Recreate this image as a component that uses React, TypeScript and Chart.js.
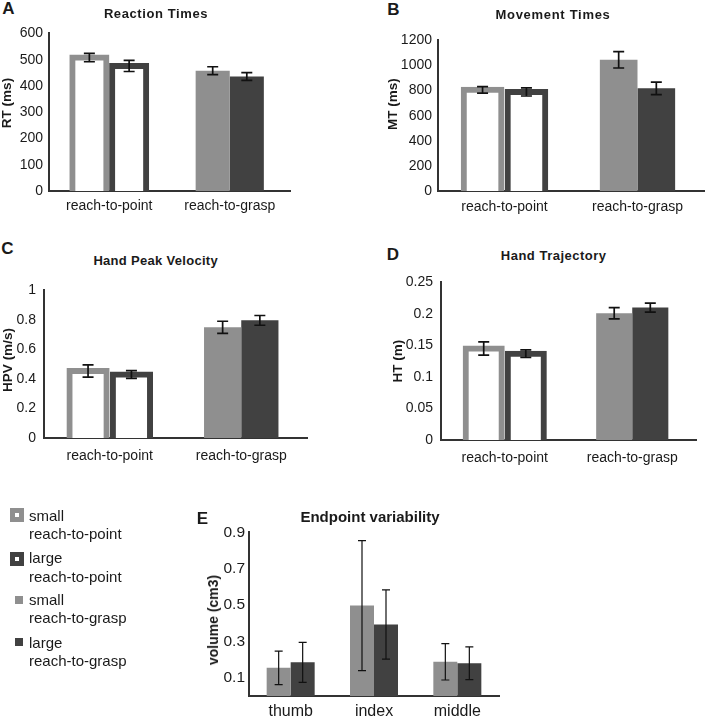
import React, { useEffect, useRef } from 'react';
import { Chart, registerables } from 'chart.js';

Chart.register(...registerables);

// ---------------- data ----------------
const groupLabels = ['reach-to-point', 'reach-to-grasp'];
const fingerLabels = ['thumb', 'index', 'middle'];

// A: Reaction Times (ms)  [reach-to-point, reach-to-grasp]
const rtSmall = [508, 458];
const rtSmallErr = [16, 15];
const rtLarge = [476, 436];
const rtLargeErr = [21, 15];
const rtTicks = [0, 100, 200, 300, 400, 500, 600];

// B: Movement Times (ms)
const mtSmall = [806, 1045];
const mtSmallErr = [26, 65];
const mtLarge = [789, 818];
const mtLargeErr = [32, 50];
const mtTicks = [0, 200, 400, 600, 800, 1000, 1200];

// C: Hand Peak Velocity (m/s)
const hpvSmall = [0.454, 0.75];
const hpvSmallErr = [0.041, 0.041];
const hpvLarge = [0.43, 0.797];
const hpvLargeErr = [0.026, 0.033];
const hpvTicks = [0, 0.2, 0.4, 0.6, 0.8, 1];

// D: Hand Trajectory (m)
const htSmall = [0.145, 0.201];
const htSmallErr = [0.0105, 0.009];
const htLarge = [0.137, 0.21];
const htLargeErr = [0.006, 0.007];
const htTicks = [0, 0.05, 0.1, 0.15, 0.2, 0.25];

// E: Endpoint variability (cm3), reach-to-grasp  [thumb, index, middle]
const evSmall = [0.155, 0.497, 0.188];
const evSmallErr = [0.092, 0.357, 0.1];
const evLarge = [0.185, 0.393, 0.18];
const evLargeErr = [0.11, 0.19, 0.09];
const evTicks = [0.1, 0.3, 0.5, 0.7, 0.9];
const evMax = 0.9;

// ---------------- style ----------------
const FONT = "'Liberation Sans', Arial, Helvetica, sans-serif";
const LIGHT = '#8f8f8f';
const DARK = '#414141';
const AXIS = '#333333';
const TEXT = '#1a1a1a';
const POINT_CAT = 0.66;
const POINT_BAR = 0.857;
const GRASP_CAT = 0.566;

const errorBarPlugin = {
  id: 'errorBars',
  afterDatasetsDraw(chart: any, _args: any, opts: any) {
    const ctx = chart.ctx;
    const yScale = chart.scales.y;
    ctx.save();
    ctx.strokeStyle = opts.color || '#111';
    ctx.lineWidth = opts.lineWidth || 1.5;
    chart.data.datasets.forEach((ds: any, di: number) => {
      if (!ds.errors) return;
      const meta = chart.getDatasetMeta(di);
      meta.data.forEach((el: any, i: number) => {
        const v = ds.data[i];
        const e = ds.errors[i];
        if (v == null || e == null) return;
        const x = el.x;
        const yt = yScale.getPixelForValue(v + e);
        const yb = yScale.getPixelForValue(v - e);
        const h = opts.capWidth / 2;
        ctx.beginPath();
        ctx.moveTo(x, yt);
        ctx.lineTo(x, yb);
        ctx.moveTo(x - h, yt);
        ctx.lineTo(x + h, yt);
        ctx.moveTo(x - h, yb);
        ctx.lineTo(x + h, yb);
        ctx.stroke();
      });
    });
    ctx.restore();
  },
};

function groupDatasets(small: number[], smallErr: number[], large: number[], largeErr: number[]) {
  const outline = (color: string, v: number, e: number) => ({
    data: [v, null],
    errors: [e, null],
    backgroundColor: '#ffffff',
    borderColor: color,
    borderWidth: 6,
    inflateAmount: 3,
    borderSkipped: 'start',
    categoryPercentage: POINT_CAT,
    barPercentage: POINT_BAR,
    skipNull: true,
  });
  const filled = (color: string, v: number, e: number) => ({
    data: [null, v],
    errors: [null, e],
    backgroundColor: color,
    borderWidth: 0,
    inflateAmount: 0,
    categoryPercentage: GRASP_CAT,
    barPercentage: 1,
    skipNull: true,
  });
  return [
    outline(LIGHT, small[0], smallErr[0]),
    outline(DARK, large[0], largeErr[0]),
    filled(LIGHT, small[1], smallErr[1]),
    filled(DARK, large[1], largeErr[1]),
  ];
}

type PanelSpec = {
  left: number; top: number; width: number; height: number;
  yWidth: number; xHeight: number; padTop: number; padRight: number;
  labels: string[]; datasets: any[]; ticks: number[]; yMax: number;
  yTickPad: number; xTickPad: number; tickFont: number; catFont: number;
  err: { lineWidth: number; capWidth: number; color: string };
};

function ChartPanel({ spec }: { spec: PanelSpec }) {
  const ref = useRef<HTMLCanvasElement | null>(null);
  useEffect(() => {
    const c = ref.current;
    if (!c) return;
    const chart = new Chart(c, {
      type: 'bar',
      data: { labels: spec.labels, datasets: spec.datasets },
      options: {
        responsive: false,
        animation: false,
        devicePixelRatio: 1,
        events: [],
        layout: { padding: { top: spec.padTop, right: spec.padRight, bottom: 0, left: 0 } },
        plugins: {
          legend: { display: false },
          tooltip: { enabled: false },
          title: { display: false },
          errorBars: spec.err,
        } as any,
        scales: {
          x: {
            z: 1,
            grid: { display: false, drawTicks: false, tickLength: 0 },
            border: { display: true, width: 2, color: AXIS },
            ticks: {
              padding: spec.xTickPad,
              maxRotation: 0,
              autoSkip: false,
              color: TEXT,
              font: { family: FONT, size: spec.catFont },
            },
            afterFit: (s: any) => { s.height = spec.xHeight; },
          },
          y: {
            min: 0,
            max: spec.yMax,
            grid: { display: false, drawTicks: false, tickLength: 0 },
            border: { display: true, width: 2, color: AXIS },
            ticks: {
              padding: spec.yTickPad,
              color: TEXT,
              font: { family: FONT, size: spec.tickFont },
              callback: (v: any) => String(Number(v)),
            },
            afterBuildTicks: (s: any) => { s.ticks = spec.ticks.map((v) => ({ value: v })); },
            afterFit: (s: any) => { s.width = spec.yWidth; },
          },
        },
      } as any,
      plugins: [errorBarPlugin as any],
    });
    let alive = true;
    const fonts = (document as any).fonts;
    if (fonts && fonts.load) {
      fonts.load(`14px ${FONT}`).then(() => { if (alive) chart.update('none'); }).catch(() => {});
    }
    return () => { alive = false; chart.destroy(); };
  }, []);
  return (
    <canvas
      ref={ref}
      width={spec.width}
      height={spec.height}
      style={{ position: 'absolute', left: spec.left, top: spec.top, width: spec.width, height: spec.height }}
    />
  );
}

const ERR_BIG = { lineWidth: 1.7, capWidth: 11, color: '#111' };
const ERR_SMALL = { lineWidth: 1.2, capWidth: 8, color: '#111' };

const panels: PanelSpec[] = [
  {
    left: 0, top: 19, width: 295, height: 202, yWidth: 49, xHeight: 30, padTop: 10, padRight: 5,
    labels: groupLabels, datasets: groupDatasets(rtSmall, rtSmallErr, rtLarge, rtLargeErr),
    ticks: rtTicks, yMax: 600, yTickPad: 6, xTickPad: 7, tickFont: 14, catFont: 14, err: ERR_BIG,
  },
  {
    left: 378, top: 26, width: 327, height: 195, yWidth: 60, xHeight: 30, padTop: 10, padRight: 1,
    labels: groupLabels, datasets: groupDatasets(mtSmall, mtSmallErr, mtLarge, mtLargeErr),
    ticks: mtTicks, yMax: 1200, yTickPad: 6, xTickPad: 8, tickFont: 14, catFont: 14, err: ERR_BIG,
  },
  {
    left: 0, top: 274, width: 312, height: 194, yWidth: 44, xHeight: 30, padTop: 10, padRight: 5,
    labels: groupLabels, datasets: groupDatasets(hpvSmall, hpvSmallErr, hpvLarge, hpvLargeErr),
    ticks: hpvTicks, yMax: 1, yTickPad: 8, xTickPad: 10, tickFont: 14, catFont: 14, err: ERR_BIG,
  },
  {
    left: 381, top: 266, width: 320, height: 204, yWidth: 60, xHeight: 30, padTop: 10, padRight: 5,
    labels: groupLabels, datasets: groupDatasets(htSmall, htSmallErr, htLarge, htLargeErr),
    ticks: htTicks, yMax: 0.25, yTickPad: 8, xTickPad: 10, tickFont: 14, catFont: 14, err: ERR_BIG,
  },
  {
    left: 189, top: 519, width: 315, height: 200, yWidth: 60, xHeight: 23, padTop: 10, padRight: 5,
    labels: fingerLabels,
    datasets: [
      { data: evSmall, errors: evSmallErr, backgroundColor: LIGHT, borderWidth: 0, inflateAmount: 0, categoryPercentage: 0.576, barPercentage: 1 },
      { data: evLarge, errors: evLargeErr, backgroundColor: DARK, borderWidth: 0, inflateAmount: 0, categoryPercentage: 0.576, barPercentage: 1 },
    ],
    ticks: evTicks, yMax: evMax, yTickPad: 4, xTickPad: 6, tickFont: 15.5, catFont: 16, err: ERR_SMALL,
  },
];

function Txt(props: { x: number; y: number; text: string; size: number; bold?: boolean; rotate?: boolean; left?: boolean; ls?: number }) {
  const { x, y, text, size, bold, rotate, left, ls } = props;
  return (
    <div
      style={{
        position: 'absolute',
        left: x,
        top: y,
        transform: `translate(${left ? '0' : '-50%'}, -50%)${rotate ? ' rotate(-90deg)' : ''}`,
        fontFamily: FONT,
        fontSize: size,
        fontWeight: bold ? 700 : 400,
        lineHeight: 1,
        whiteSpace: 'nowrap',
        color: TEXT,
        letterSpacing: ls ? ls : 0,
      }}
    >
      {text}
    </div>
  );
}

function Swatch(props: { x: number; y: number; size: number; color: string; outline?: boolean }) {
  const { x, y, size, color, outline } = props;
  return (
    <div
      style={{
        position: 'absolute',
        left: x,
        top: y,
        width: size,
        height: size,
        boxSizing: 'border-box',
        background: outline ? '#fff' : color,
        border: outline ? `5px solid ${color}` : 'none',
      }}
    />
  );
}

export default function App() {
  return (
    <div style={{ position: 'absolute', left: 0, top: 0, width: 705, height: 719, overflow: 'hidden', background: '#fff' }}>
      {panels.map((p, i) => <ChartPanel key={i} spec={p} />)}

      <Txt x={8.5} y={8} text="A" size={17} bold />
      <Txt x={393.5} y={8.5} text="B" size={17} bold />
      <Txt x={7.5} y={248} text="C" size={17} bold />
      <Txt x={393} y={254} text="D" size={17} bold />
      <Txt x={202.5} y={517.5} text="E" size={17} bold />

      <Txt x={156} y={12.5} text="Reaction Times" size={13} bold ls={0.6} />
      <Txt x={553} y={14.3} text="Movement Times" size={13} bold ls={0.7} />
      <Txt x={155.7} y={260} text="Hand Peak Velocity" size={13} bold ls={0.3} />
      <Txt x={553.7} y={255} text="Hand Trajectory" size={13} bold ls={0.5} />
      <Txt x={370} y={516} text="Endpoint variability" size={15} bold />

      <Txt x={7} y={103} text="RT (ms)" size={13.5} bold rotate />
      <Txt x={393} y={104} text="MT (ms)" size={13.5} bold rotate />
      <Txt x={7.7} y={360} text="HPV (m/s)" size={13.5} bold rotate />
      <Txt x={398} y={361} text="HT (m)" size={13.5} bold rotate />
      <Txt x={212.5} y={620} text="volume (cm3)" size={14} bold rotate />

      <Swatch x={10} y={508} size={14} color={LIGHT} outline />
      <Swatch x={10} y={551.5} size={14} color={DARK} outline />
      <Swatch x={14.5} y={595.5} size={8} color={LIGHT} />
      <Swatch x={14.5} y={638} size={8} color={DARK} />

      <Txt x={29} y={514.5} text="small" size={15} left />
      <Txt x={29} y={533} text="reach-to-point" size={15} left />
      <Txt x={29} y={557.3} text="large" size={15} left />
      <Txt x={29} y={575.7} text="reach-to-point" size={15} left />
      <Txt x={29} y={598.7} text="small" size={15} left />
      <Txt x={29} y={616.7} text="reach-to-grasp" size={15} left />
      <Txt x={29} y={641.7} text="large" size={15} left />
      <Txt x={29} y={660} text="reach-to-grasp" size={15} left />
    </div>
  );
}
